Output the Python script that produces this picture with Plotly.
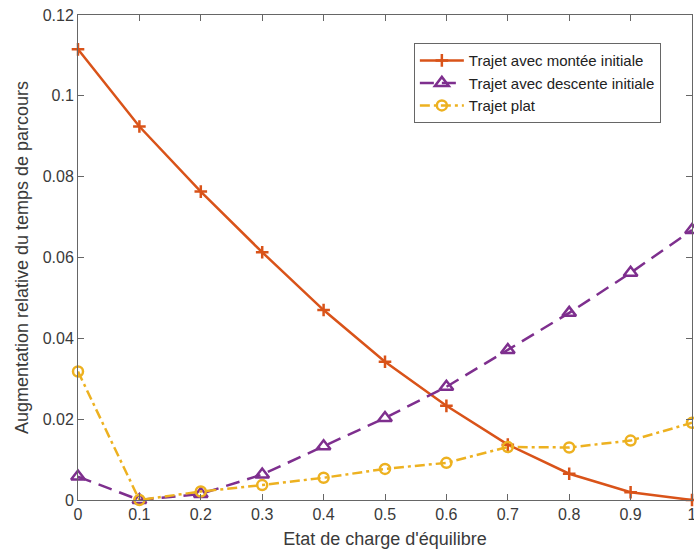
import plotly.graph_objects as go

soc = [0, 0.1, 0.2, 0.3, 0.4, 0.5, 0.6, 0.7, 0.8, 0.9, 1.0]
montee = [0.1115, 0.0924, 0.0763, 0.0613, 0.0470, 0.0342, 0.0233, 0.0137, 0.0065, 0.0019, 0.0]
descente = [0.0058, 0.0, 0.0015, 0.0063, 0.0133, 0.0203, 0.0280, 0.0371, 0.0463, 0.0562, 0.0668]
plat = [0.0318, 0.0, 0.0021, 0.0037, 0.0055, 0.0077, 0.0092, 0.0131, 0.0130, 0.0147, 0.0191]

xticks = [0, 0.1, 0.2, 0.3, 0.4, 0.5, 0.6, 0.7, 0.8, 0.9, 1]
xticktext = ["0", "0.1", "0.2", "0.3", "0.4", "0.5", "0.6", "0.7", "0.8", "0.9", "1"]
yticks = [0, 0.02, 0.04, 0.06, 0.08, 0.1, 0.12]
yticktext = ["0", "0.02", "0.04", "0.06", "0.08", "0.1", "0.12"]

FONT = "Liberation Sans, Arial, sans-serif"
TXT = "#3a3a3a"
AX = "#666666"

fig = go.Figure()
fig.add_trace(go.Scatter(
    x=soc, y=montee, name="Trajet avec montée initiale", mode="lines+markers",
    line=dict(color="#D95319", width=2.5, dash="solid"),
    marker=dict(symbol="cross-thin-open", size=9, line=dict(color="#D95319", width=2.5)),
    cliponaxis=False))
fig.add_trace(go.Scatter(
    x=soc, y=descente, name="Trajet avec descente initiale", mode="lines+markers",
    line=dict(color="#7E2F8E", width=2.5, dash="14px,8px"),
    marker=dict(symbol="triangle-up-open", size=12, line=dict(color="#7E2F8E", width=2.5)),
    cliponaxis=False))
fig.add_trace(go.Scatter(
    x=soc, y=plat, name="Trajet plat", mode="lines+markers",
    line=dict(color="#EDB120", width=2.5, dash="10px,4px,3px,4px"),
    marker=dict(symbol="circle-open", size=10, line=dict(color="#EDB120", width=2.5)),
    cliponaxis=False))

axis_common = dict(
    showline=True, linecolor=AX, linewidth=1, mirror="ticks",
    ticks="inside", ticklen=6, tickcolor=AX, showgrid=False, zeroline=False,
    automargin=False, ticklabeloverflow="allow",
    tickfont=dict(family=FONT, size=16, color=TXT),
)

fig.update_layout(
    width=694, height=553,
    margin=dict(l=78, r=2, t=15, b=53),
    plot_bgcolor="white", paper_bgcolor="white",
    font=dict(family=FONT, size=16, color=TXT),
    xaxis=dict(range=[0, 1], tickvals=xticks, ticktext=xticktext,
               title=dict(text="Etat de charge d'équilibre", standoff=10,
                          font=dict(family=FONT, size=18, color=TXT)),
               **axis_common),
    yaxis=dict(range=[0, 0.12], tickvals=yticks, ticktext=yticktext,
               title=dict(text="Augmentation relative du temps de parcours", standoff=9,
                          font=dict(family=FONT, size=18, color=TXT)),
               **axis_common),
    legend=dict(x=0.547, y=0.942, xanchor="left", yanchor="top",
                bordercolor=AX, borderwidth=1, bgcolor="white",
                font=dict(family=FONT, size=15, color="#222222"),
                tracegroupgap=0, itemwidth=44),
    showlegend=True,
)

fig.write_html(
    "out.html",
    config={"displayModeBar": False},
    post_script="document.body.style.margin='0';document.body.style.overflow='hidden';"
)
